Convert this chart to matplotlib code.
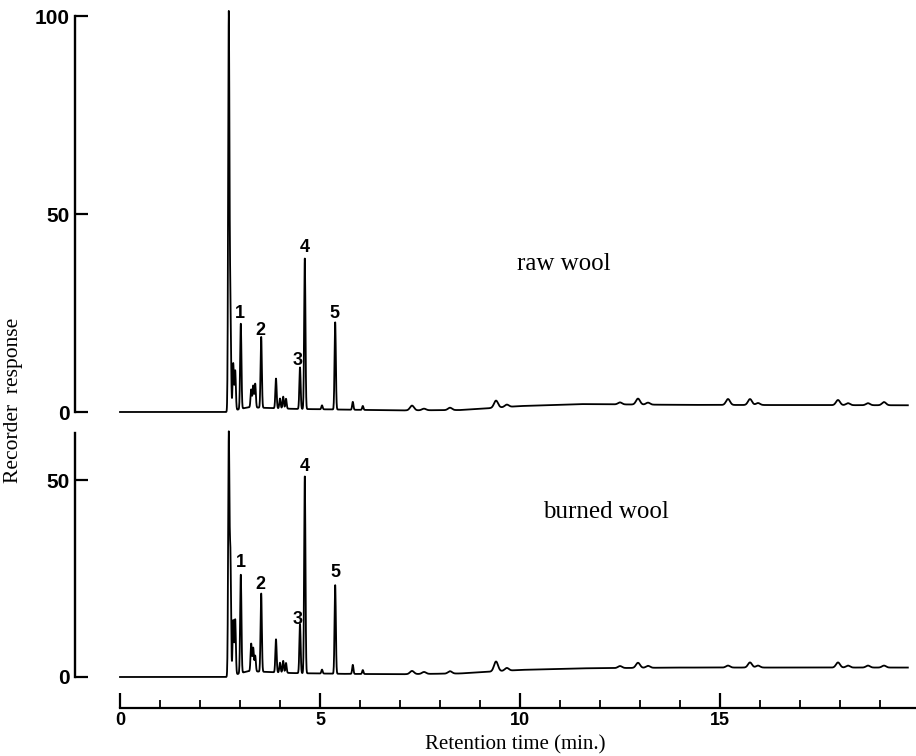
import numpy as np
import matplotlib
matplotlib.use("Agg")
import matplotlib.pyplot as plt
from matplotlib.ticker import MultipleLocator
from matplotlib.font_manager import FontProperties

# peak retention times (min) and heights
peak_times = [2.72, 2.76, 2.83, 2.88, 3.02, 3.28, 3.33, 3.38, 3.53, 3.90, 4.00, 4.08, 4.15,
              4.50, 4.62, 5.05, 5.38, 5.82, 6.07, 7.30, 7.60, 8.25, 9.40, 9.67,
              12.50, 12.95, 13.20, 15.20, 15.75, 15.95, 17.95, 18.20, 18.70, 19.10]
raw_heights = [100, 27, 12, 10, 21.5, 4.5, 5.5, 6, 18, 7.5, 2.5, 3, 2.5,
               10.5, 38, 1, 22, 2, 1, 1.2, 0.4, 0.6, 1.8, 0.6,
               0.5, 1.5, 0.5, 1.5, 1.5, 0.5, 1.3, 0.5, 0.5, 0.8]
burned_heights = [61, 30, 14, 14, 25, 7, 6, 4, 20, 8.4, 2.5, 3, 2.5,
                  12.5, 50, 1, 22.5, 2.3, 1, 0.8, 0.5, 0.6, 2.5, 0.7,
                  0.5, 1.3, 0.5, 0.5, 1.3, 0.5, 1.3, 0.5, 0.5, 0.5]

# baseline drift knots
base_t = [0, 2.68, 3.2, 4.3, 5.6, 7.0, 8.5, 9.0, 10.0, 11.5, 14.0, 19.7]
raw_base = [0, 0, 1.2, 0.8, 0.6, 0.4, 0.5, 0.8, 1.5, 2.0, 1.8, 1.7]
burned_base = [0, 0, 1.5, 1.0, 0.8, 0.7, 0.9, 1.2, 1.8, 2.2, 2.4, 2.4]

peak_labels = ["1", "2", "3", "4", "5"]
raw_label_pos = [(3.0, 25), (3.52, 20.7), (4.45, 13), (4.62, 41.5), (5.37, 25)]
burned_label_pos = [(3.02, 29), (3.52, 23.5), (4.45, 14.7), (4.62, 53.5), (5.38, 26.5)]

t_end = 19.7


def trace(heights, base):
    t = np.arange(0, t_end, 0.004)
    y = np.interp(t, base_t, base)
    for tp, h in zip(peak_times, heights):
        s = 0.016 if tp < 7 else 0.05
        y = y + h * np.exp(-0.5 * ((t - tp) / s) ** 2)
    return t, y


plt.rcParams['font.family'] = ['Liberation Sans', 'DejaVu Sans']
fig = plt.figure(figsize=(9.16, 7.56), dpi=100)
L = 75 / 916
W = 1 - L
xlim = (-1.125, 19.9)

ax1 = fig.add_axes([L, 344 / 756, W, 396 / 756])
ax2 = fig.add_axes([L, 79 / 756, W, 244 / 756])

tick_fp = FontProperties(family='Liberation Sans', weight='bold', size=15)

for ax, h, b, lab, ymax, ticks in [
        (ax1, raw_heights, raw_base, raw_label_pos, 100, [0, 50, 100]),
        (ax2, burned_heights, burned_base, burned_label_pos, 62, [0, 50])]:
    t, y = trace(h, b)
    ax.plot(t, y, color='black', lw=1.3, clip_on=False)
    ax.set_xlim(*xlim)
    ax.set_ylim(0, ymax)
    for s in ['top', 'right']:
        ax.spines[s].set_visible(False)
    ax.spines['left'].set_linewidth(1.7)
    ax.set_yticks(ticks)
    ax.tick_params(axis='y', direction='in', length=9, width=1.6, pad=4)
    for tl in ax.get_yticklabels():
        tl.set_fontproperties(tick_fp)
    for (xt, yt), s in zip(lab, peak_labels):
        ax.text(xt, yt, s, ha='center', va='center', fontsize=13, fontweight='bold')

ax1.spines['bottom'].set_visible(False)
ax1.set_xticks([])

ax2.spines['bottom'].set_position(('outward', 22.3))
ax2.spines['bottom'].set_bounds(0, xlim[1])
ax2.spines['bottom'].set_linewidth(1.6)
ax2.xaxis.set_major_locator(MultipleLocator(5))
ax2.xaxis.set_minor_locator(MultipleLocator(1))
ax2.tick_params(axis='x', which='major', direction='in', length=11, width=1.6, pad=3)
ax2.tick_params(axis='x', which='minor', direction='in', length=6, width=1.3)
ax2.set_xticks([0, 5, 10, 15])
ax2.set_xticklabels(['0', '5', '10', '15'], fontsize=13, fontweight='bold')
ax2.set_xticks([x for x in range(1, 20) if x % 5], minor=True)

ax1.text(11.1, 37.5, 'raw wool', ha='center', va='center', family='Liberation Serif', size=18)
ax2.text(12.15, 42, 'burned wool', ha='center', va='center', family='Liberation Serif', size=18)

fig.text(515 / 916, 1 - 745 / 756, 'Retention time (min.)', ha='center', va='center',
         family='Liberation Serif', size=15)
fig.text(14 / 916, 1 - 400 / 756, 'Recorder  response', ha='center', va='center',
         rotation=90, family='Liberation Serif', size=15.5)

fig.savefig('out.png', dpi=100)
